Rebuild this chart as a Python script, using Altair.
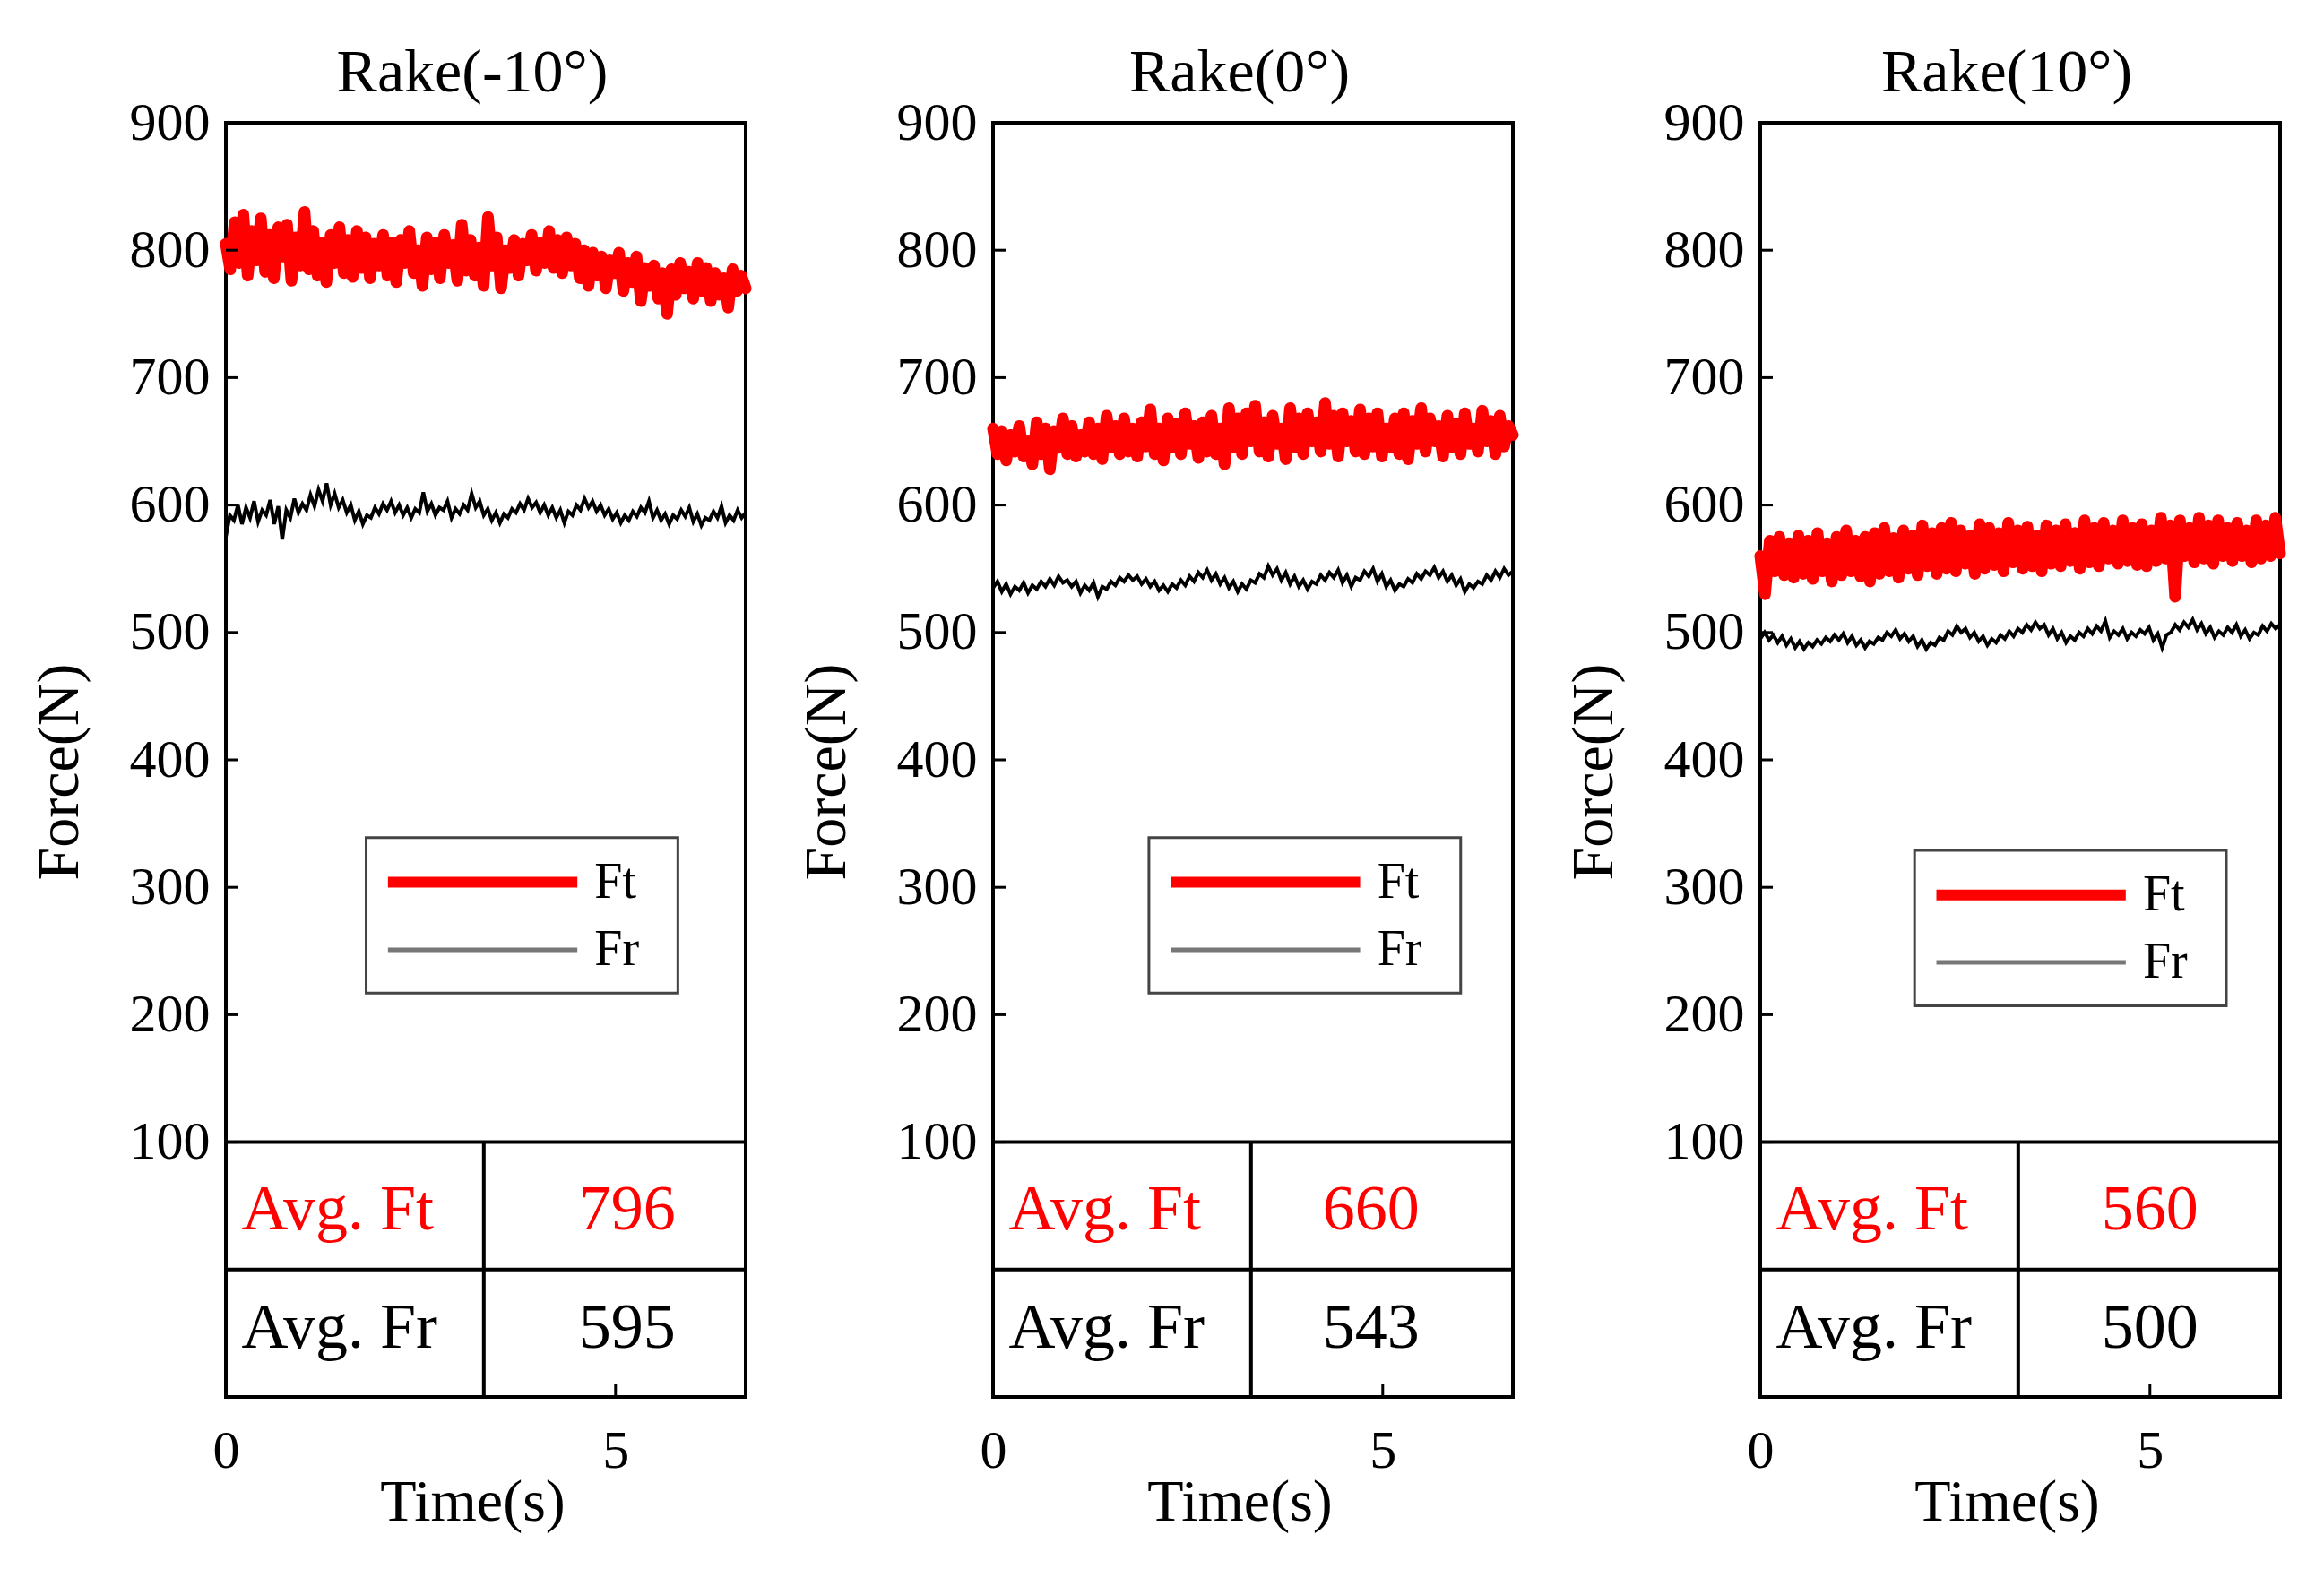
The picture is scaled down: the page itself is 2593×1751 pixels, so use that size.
import altair as alt
import pandas as pd
import numpy as np

T_END = 6.67
FONT = "Liberation Serif"
W, H = 580, 1422

titles = ["Rake(-10°)", "Rake(0°)", "Rake(10°)"]
avg_ft = ["796", "660", "560"]
avg_fr = ["595", "543", "500"]
y_ticks = [100, 200, 300, 400, 500, 600, 700, 800, 900]
x_ticks = [0, 5]

ft_neg10 = [805, 785, 822, 790, 828, 780, 815, 792, 825, 783,
            812, 778, 818, 795, 820, 776, 810, 788, 830, 785,
            815, 780, 806, 775, 812, 790, 818, 782, 808, 779,
            815, 786, 810, 778, 805, 788, 812, 780, 806, 775,
            808, 790, 815, 782, 800, 772, 810, 785, 806, 778,
            812, 790, 804, 776, 820, 784, 808, 780, 802, 772,
            826, 788, 810, 770, 800, 786, 808, 780, 805, 792,
            812, 784, 806, 790, 815, 786, 808, 782, 810, 788,
            805, 778, 800, 772, 798, 780, 795, 770, 792, 782,
            798, 768, 790, 775, 795, 760, 786, 772, 788, 762,
            782, 750, 785, 765, 790, 770, 783, 762, 790, 768,
            786, 760, 782, 765, 778, 755, 785, 768, 780, 770]
fr_neg10 = [575, 592, 588, 600, 585, 598, 590, 603, 587, 596,
            592, 604, 585, 599, 573, 596, 590, 605, 594, 601,
            596, 608, 599, 612, 603, 617, 600, 609, 598, 604,
            594, 600, 588, 595, 585, 592, 590, 598, 593, 601,
            596, 603, 594, 600, 592, 598, 590, 597, 594, 610,
            595, 601, 592, 598, 596, 603, 590, 597, 593, 600,
            596, 609, 598, 603, 592, 597, 588, 594, 586, 593,
            590, 597, 594, 601, 596, 605, 598, 602, 594, 600,
            592, 598, 590, 596, 586, 595, 592, 600, 596, 605,
            598, 603, 595, 600, 592, 597, 589, 594, 586, 592,
            588, 595, 591, 598, 594, 603, 590, 596, 588, 593,
            585, 592, 589, 596, 591, 598, 587, 593, 584, 590,
            588, 595, 590, 599, 586, 592, 588, 596, 590, 594]

ft_0 = [660, 640, 658, 635, 655, 642, 662, 638, 650, 632,
        665, 640, 660, 628, 658, 645, 668, 640, 662, 638,
        655, 642, 665, 640, 660, 636, 670, 645, 662, 640,
        668, 642, 660, 638, 665, 646, 675, 640, 660, 635,
        668, 645, 664, 640, 672, 648, 662, 637, 665, 642,
        670, 640, 660, 632, 676, 645, 668, 640, 672, 650,
        678, 642, 665, 638, 670, 648, 660, 636, 676, 645,
        668, 640, 672, 650, 665, 642, 680, 648, 670, 638,
        672, 650, 666, 642, 675, 640, 668, 646, 672, 638,
        660, 645, 668, 640, 672, 636, 666, 648, 676, 642,
        668, 650, 662, 638, 670, 645, 664, 640, 672, 648,
        660, 642, 674, 650, 666, 640, 670, 646, 662, 655]
fr_0 = [535, 540, 532, 538, 530, 536, 533, 539, 531, 537,
        534, 540, 536, 542, 537, 544, 539, 541, 536, 540,
        531, 537, 533, 539, 528, 536, 534, 540, 537, 543,
        540, 545, 541, 544, 538, 542, 536, 540, 533, 537,
        532, 538, 535, 541, 537, 544, 540, 547, 543, 549,
        541, 546, 538, 543, 535, 540, 532, 538, 534, 541,
        539, 546, 543, 552, 545, 550, 541, 547, 538, 544,
        536, 541, 534, 540, 538, 545, 541, 547, 543, 549,
        539, 545, 536, 543, 541, 548, 544, 550, 540, 546,
        536, 541, 533, 538, 536, 542, 539, 546, 542, 548,
        545, 551, 543, 548, 540, 545, 537, 542, 532, 538,
        535, 540, 538, 545, 541, 548, 543, 550, 545, 548]

ft_10 = [560, 530, 572, 548, 575, 545, 570, 543, 576, 546,
         572, 542, 578, 548, 570, 540, 575, 545, 580, 548,
         572, 544, 575, 540, 578, 546, 582, 548, 574, 543,
         580, 550, 576, 545, 584, 552, 578, 546, 582, 550,
         586, 548, 580, 554, 576, 546, 585, 550, 582, 553,
         578, 548, 586, 555, 580, 550, 583, 552, 576, 548,
         584, 554, 580, 552, 585, 556, 578, 550, 588, 555,
         582, 552, 586, 558, 580, 554, 588, 556, 582, 553,
         585, 552, 580, 556, 590, 558, 584, 528, 588, 560,
         582, 555, 590, 558, 584, 554, 588, 560, 582, 556,
         586, 560, 580, 555, 588, 558, 584, 560, 590, 562]
fr_10 = [495, 500, 494, 498, 492, 497, 490, 495, 488, 493,
         487, 492, 489, 494, 491, 496, 493, 498, 494, 499,
         492, 497, 490, 494, 488, 493, 491, 496, 494, 500,
         497, 502, 495, 499, 493, 497, 489, 494, 487, 492,
         490, 496, 494, 501, 498, 505, 500, 503, 496, 500,
         493, 497, 490, 495, 492, 498, 495, 501, 497, 503,
         500, 506, 502, 508, 503, 506, 498, 503, 495, 500,
         492, 497, 494, 500, 497, 503, 499, 505, 501, 509,
         496, 501, 498, 503, 495, 500, 497, 502, 499, 504,
         494, 499, 488, 498, 500, 506, 502, 508, 504, 510,
         502, 507, 499, 504, 496, 501, 498, 504, 500, 506,
         497, 502, 495, 500, 498, 505, 501, 507, 503, 506]

ft_series = [ft_neg10, ft_0, ft_10]
fr_series = [fr_neg10, fr_0, fr_10]

# legend box anchor (left time, top force) per panel
legend_x0 = [1.8, 2.0, 1.98]
legend_top = [339, 339, 329]
# horizontal centre of the average values in the table
num_x = [5.15, 4.85, 5.0]

TABLE_DIV = 3.31

xs = alt.Scale(domain=[0, T_END], nice=False, zero=False)
ys = alt.Scale(domain=[-100, 900], nice=False, zero=False)
AX = dict(labelFont=FONT, titleFont=FONT, titleFontWeight="normal",
          labelColor="black", titleColor="black", domain=False, ticks=False,
          tickSize=0, grid=False, labelFlush=False, format="d")
xaxis = alt.Axis(values=x_ticks, title="Time(s)", labelPadding=31, titlePadding=-5,
                 titleX=W / 2 - 15, labelFontSize=60, titleFontSize=66, **AX)
yaxis = alt.Axis(values=y_ticks, title="Force(N)", labelPadding=18, titlePadding=44,
                 titleY=H / 2 + 13, labelFontSize=60, titleFontSize=66, **AX)


def X(f="t"):
    return alt.X(f + ":Q", scale=xs, axis=xaxis)


def Y(f="v"):
    return alt.Y(f + ":Q", scale=ys, axis=yaxis)


def panel(i):
    ft = ft_series[i]
    fr = fr_series[i]
    df_ft = pd.DataFrame({"t": np.linspace(0, T_END, len(ft)), "v": ft})
    df_fr = pd.DataFrame({"t": np.linspace(0, T_END, len(fr)), "v": fr})

    ft_line = alt.Chart(df_ft).mark_line(color="#ff0000", strokeWidth=13,
                                         strokeJoin="round", strokeCap="round").encode(x=X(), y=Y())
    fr_line = alt.Chart(df_fr).mark_line(color="black", strokeWidth=4).encode(x=X(), y=Y())

    # table lines
    df_h = pd.DataFrame({"t": [0, 0], "t2": [T_END, T_END], "v": [100, 0]})
    h_rules = alt.Chart(df_h).mark_rule(color="black", strokeWidth=4).encode(
        x=X(), x2="t2:Q", y=Y())
    df_v = pd.DataFrame({"t": [TABLE_DIV], "v": [-100], "v2": [100]})
    v_rule = alt.Chart(df_v).mark_rule(color="black", strokeWidth=4).encode(
        x=X(), y=Y(), y2="v2:Q")

    df_txt = pd.DataFrame({
        "t": [0.2, 0.2],
        "v": [47, -46],
        "label": ["Avg. Ft", "Avg. Fr"],
        "c": ["#ff0000", "black"],
    })
    txt_l = alt.Chart(df_txt).mark_text(align="left", baseline="middle", font=FONT,
                                        fontSize=72).encode(
        x=X(), y=Y(), text="label:N", color=alt.Color("c:N", scale=None))
    df_num = pd.DataFrame({
        "t": [num_x[i], num_x[i]],
        "v": [47, -46],
        "label": [avg_ft[i], avg_fr[i]],
        "c": ["#ff0000", "black"],
    })
    txt_r = alt.Chart(df_num).mark_text(align="center", baseline="middle", font=FONT,
                                        fontSize=72).encode(
        x=X(), y=Y(), text="label:N", color=alt.Color("c:N", scale=None))

    # legend
    x0 = legend_x0[i]
    top = legend_top[i]
    df_box = pd.DataFrame({"t": [x0], "t2": [x0 + 4.0], "v": [top], "v2": [top - 122]})
    box = alt.Chart(df_box).mark_rect(fill="white", stroke="#444444", strokeWidth=3).encode(
        x=X(), x2="t2:Q", y=Y(), y2="v2:Q")
    df_leg = pd.DataFrame({
        "t": [x0 + 0.28, x0 + 0.28],
        "t2": [x0 + 2.71, x0 + 2.71],
        "v": [top - 35, top - 88],
        "c": ["#ff0000", "#777777"],
        "w": [12, 5],
    })
    leg_lines = alt.Chart(df_leg).mark_rule().encode(
        x=X(), x2="t2:Q", y=Y(), color=alt.Color("c:N", scale=None),
        strokeWidth=alt.StrokeWidth("w:Q", scale=None))
    df_legt = pd.DataFrame({"t": [x0 + 2.93, x0 + 2.93], "v": [top - 35, top - 88],
                            "label": ["Ft", "Fr"]})
    leg_text = alt.Chart(df_legt).mark_text(align="left", baseline="middle", font=FONT,
                                            fontSize=56, color="black").encode(
        x=X(), y=Y(), text="label:N")

    # inward ticks
    df_yt = pd.DataFrame({"v": y_ticks})
    yt = alt.Chart(df_yt).mark_rule(color="black", strokeWidth=3).encode(
        y=Y(), x=alt.value(0), x2=alt.value(14))
    df_xt = pd.DataFrame({"t": x_ticks})
    xt = alt.Chart(df_xt).mark_rule(color="black", strokeWidth=3).encode(
        x=X(), y=alt.value(H), y2=alt.value(H - 14))

    return alt.layer(fr_line, ft_line, h_rules, v_rule, txt_l, txt_r, box, leg_lines,
                     leg_text, yt, xt).properties(
        width=W, height=H,
        title=alt.TitleParams(titles[i], font=FONT, fontSize=68, fontWeight="normal",
                              color="black", anchor="middle", offset=-9, dx=-15))


chart = alt.hconcat(*[panel(i) for i in range(3)], spacing=45).properties(
    padding={"left": 23, "top": 38, "right": 5, "bottom": 5},
    background="white"
).configure_view(stroke="black", strokeWidth=4)

chart.save("out.html", embed_options={"renderer": "svg", "actions": False})
